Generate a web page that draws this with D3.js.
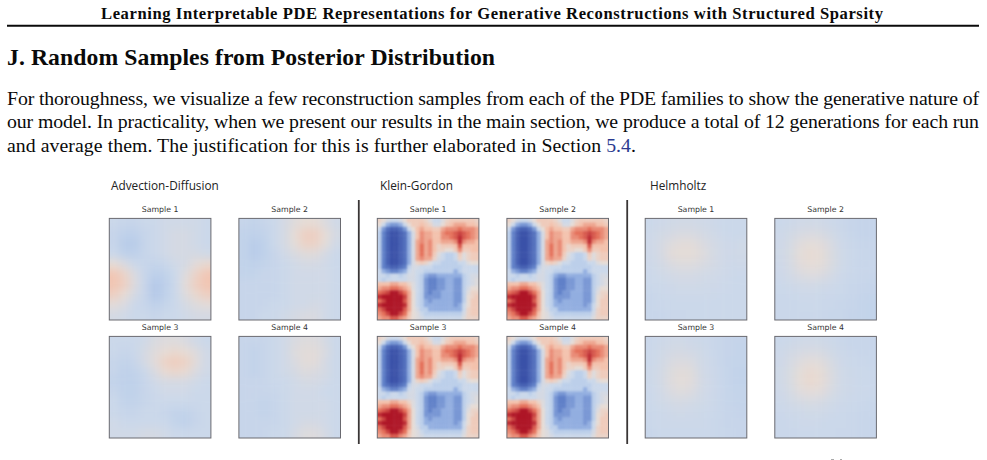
<!DOCTYPE html>
<html>
<head>
<meta charset="utf-8">
<script src="https://cdn.jsdelivr.net/npm/d3@7"></script>
<style>
  html, body { margin: 0; padding: 0; background: #fff; }
  svg { display: block; }
  .serif { font-family: "Liberation Serif", serif; fill: #0a0a0a; }
  .family { font-family: "Open Sans", sans-serif; font-size: 11.8px; fill: #222; }
  .sample { font-family: "DejaVu Sans", sans-serif; font-size: 7.8px; fill: #333; text-anchor: middle; }
</style>
</head>
<body>
<svg id="page" width="987" height="460"></svg>
<script>
// Page text
const runningHead = "Learning Interpretable PDE Representations for Generative Reconstructions with Structured Sparsity";
const sectionTitle = "J. Random Samples from Posterior Distribution";
const bodyLines = [
  "For thoroughness, we visualize a few reconstruction samples from each of the PDE families to show the generative nature of",
  "our model. In practicality, when we present our results in the main section, we produce a total of 12 generations for each run"
];
const lastLineLead = "and average them. The justification for this is further elaborated in Section ";
const lastLineLink = "5.4";
const familyNames = ["Advection-Diffusion", "Klein-Gordon", "Helmholtz"];
const sampleNames = ["Sample 1", "Sample 2", "Sample 3", "Sample 4"];

// Field values per sample, rows from top to bottom, on a -10..10 scale
const advection1 = [
  [-3,-3.3,-3.3,-3,-3,-2.5,-2.5,-2.5,-2.5,-3],
  [-3.3,-3.8,-3.8,-3.3,-3,-2.5,-2,-2,-2.5,-3],
  [-3.3,-4.1,-4.1,-3.3,-3,-2.5,-2,-2,-2.5,-3],
  [-3,-3.8,-3.8,-3.3,-3,-2.5,-2,-2,-2,-2.5],
  [0,-1.5,-3,-3.3,-3.5,-3.2,-2.5,-2,-0.5,0.5],
  [2.5,1,-1.5,-3.3,-4,-3.8,-3,-1,1,2.5],
  [2.6,1.5,-1.2,-3.3,-4.2,-4,-3,-0.5,1.5,2.6],
  [1.5,0,-2,-3.3,-4.2,-3.8,-3,-1,0.5,1.5],
  [-0.5,-1.5,-3,-3.3,-3.8,-3.5,-3,-2,-1,-0.5],
  [-2,-2.5,-3,-3,-3.3,-3,-3,-2.5,-2,-2]
];
const advection2 = [
  [-3.3,-3.6,-3.3,-3,-2,-0.8,0,0,-1.2,-2.5],
  [-3.6,-3.8,-3.6,-3,-2,0,1.5,1.5,0,-2],
  [-3.6,-4.1,-3.8,-3,-2,-0.3,1.2,1.2,-0.3,-2.5],
  [-3.6,-4.1,-3.8,-3.3,-2.5,-1.5,-0.8,-0.8,-2,-3],
  [-3.6,-3.8,-3.6,-3.3,-3,-2.5,-2,-2,-2.5,-3],
  [-3.6,-3.6,-3.3,-3.3,-3,-2.5,-2.5,-2.5,-2.5,-3],
  [-3.3,-3.3,-3.3,-3.3,-3,-2.5,-2.5,-2.5,-2.5,-3],
  [-3.3,-3.3,-3.3,-3.3,-3,-2.5,-2.5,-2.5,-2.5,-3],
  [-3.3,-3.3,-3.3,-3,-3,-2.5,-2.5,-2,-2.5,-3],
  [-3.3,-3.3,-3,-3,-2.5,-2,-1.5,-1.5,-2.5,-3]
];
const advection3 = [
  [-3,-3,-3,-2.5,-1.5,-1,-1,-1.5,-2.5,-3],
  [-3,-3.3,-3,-2,-0.8,0,0.5,0,-1,-2.5],
  [-3.3,-3.6,-3.3,-2,-0.5,1.3,1.8,1.3,-0.5,-2.5],
  [-3.3,-3.8,-3.6,-3,-1.5,0.2,0.7,0.2,-1.5,-2.5],
  [-3.6,-3.8,-3.8,-3.3,-2.5,-2,-2,-2,-2.5,-3],
  [-3.3,-3.8,-3.8,-3.3,-3,-2.5,-2.5,-2.5,-3,-3],
  [-3,-3.6,-3.6,-3.3,-3,-3,-3,-3,-3,-3],
  [-3,-3.3,-3.3,-3,-3,-3.3,-3.6,-3.6,-3.3,-3],
  [-2.5,-3,-3,-3,-3,-3,-3.6,-3.8,-3.3,-3],
  [-2.5,-2.5,-2.5,-2,-2,-2.5,-3,-3,-3,-3]
];
const advection4 = [
  [-3.3,-3.3,-3.3,-3,-2.5,-1.5,-1,-1,-2,-3],
  [-3.3,-3.6,-3.3,-3,-2.5,-1,-0.5,-0.5,-1.5,-3],
  [-3.3,-3.6,-3.3,-3,-2.5,-1.5,-0.5,-0.5,-2,-3],
  [-3.3,-3.6,-3.3,-3,-2.5,-2,-1,-1.5,-2,-3],
  [-3.3,-3.3,-3.3,-3,-3,-2.5,-2,-2,-2.5,-3],
  [-3.3,-3.3,-3.3,-3.3,-3,-2.5,-2.5,-2.5,-3,-3],
  [-3.3,-3.3,-3.6,-3.3,-3,-2.5,-2.5,-2.5,-2.5,-3],
  [-3.3,-3.3,-3.6,-3.3,-3,-2.5,-2.5,-2.5,-2.5,-3],
  [-3.3,-3.3,-3.3,-3.3,-3,-2.5,-2,-2,-2.5,-3],
  [-3.3,-3.3,-3.3,-3,-3,-2,-1,-1,-2,-3]
];

// The four Klein-Gordon samples are visually the same field
const kleinGordon = [
  [1,0,-2,-3,-3,-2,0,2,2,2,2,1,-1,-3,-3,-1,1,2,2,2,2,2,2,1],
  [0,-3,-5,-6,-6,-5,-3,0,2,2,3,2,1,-2,-2,0,2,3,4,4,4,3,3,2],
  [-3,-6,-8,-9,-9,-8,-6,-3,0,3,4,3,3,2,2,4,5,5,5,6,5,5,5,4],
  [-4,-7,-9,-10,-10,-9,-8,-5,-2,3,5,4,4,3,3,5,6,6,7,8,7,6,5,4],
  [-4,-7,-9,-10,-10,-9,-8,-5,-2,3,5,4,4,3,3,5,5,6,7,9,7,6,5,4],
  [-4,-7,-9,-10,-10,-9,-8,-5,-2,4,5,4,5,3,3,4,4,4,5,9,5,4,4,3],
  [-4,-7,-9,-10,-10,-9,-8,-5,-2,4,6,4,5,3,1,2,2,2,3,7,3,3,3,3],
  [-4,-7,-9,-10,-10,-9,-8,-5,-2,4,6,4,5,3,1,1,0,0,2,5,2,2,3,3],
  [-4,-7,-9,-10,-10,-9,-8,-5,-2,4,6,4,5,2,-1,-3,-4,-4,-3,2,-1,1,2,2],
  [-4,-7,-9,-10,-10,-9,-8,-5,-2,4,5,4,4,1,-2,-3,-4,-4,-3,1,-1,1,2,2],
  [-4,-7,-9,-10,-10,-9,-8,-5,-2,1,2,1,-1,-3,-3,-4,-4,-4,-4,-3,-3,-1,0,0],
  [-4,-7,-8,-9,-9,-8,-7,-4,-2,-2,-3,-3,-3,-4,-4,-4,-4,-4,-4,-4,-3,-3,-3,-3],
  [-3,-5,-6,-7,-7,-6,-5,-3,-2,-3,-3,-4,-4,-4,-4,-4,-4,-4,-5,-4,-3,-3,-3,-3],
  [-3,-3,-4,-3,-3,-4,-3,-2,-2,-3,-4,-5,-6,-6,-5,-5,-5,-5,-5,-5,-4,-3,-2,-2],
  [-3,-4,-3,-3,-3,-3,-3,-2,-2,-3,-4,-6,-7,-7,-6,-6,-5,-5,-6,-6,-4,-3,-2,-1],
  [3,3,3,4,4,3,3,1,-1,-3,-4,-6,-7,-7,-6,-6,-5,-5,-6,-6,-4,-3,-2,-1],
  [4,5,5,6,6,5,4,3,-1,-3,-4,-6,-7,-7,-6,-6,-5,-5,-6,-6,-4,-2,0,0],
  [6,7,8,10,10,8,6,4,0,-3,-4,-6,-7,-6,-6,-5,-5,-5,-6,-6,-4,-1,1,1],
  [9,10,10,10,10,10,8,4,0,-3,-4,-6,-6,-6,-6,-5,-5,-5,-6,-6,-4,0,1,2],
  [6,8,10,10,10,10,7,4,0,-3,-4,-5,-6,-5,-5,-5,-5,-5,-6,-6,-4,0,2,2],
  [9,10,10,10,10,10,9,4,0,-3,-4,-5,-5,-5,-5,-5,-5,-5,-6,-5,-3,0,2,2],
  [6,8,10,10,10,10,7,4,0,-2,-4,-4,-5,-5,-5,-5,-5,-5,-5,-5,-3,1,2,2],
  [5,6,8,10,10,8,6,3,0,-1,-3,-4,-4,-4,-4,-4,-4,-4,-4,-4,-2,1,2,2],
  [4,5,5,7,7,5,4,2,0,-1,-2,-3,-3,-3,-3,-3,-3,-3,-3,-3,-1,1,1,1]
];

const helmholtz1 = [
  [-3,-2.7,-2.5,-2.3,-2.3,-2.5,-2.7,-3,-3,-3],
  [-2.8,-2.3,-2,-1.6,-1.6,-2,-2.4,-2.8,-3,-3],
  [-2.7,-2,-1,-0.5,-0.5,-1.2,-2,-2.6,-2.8,-2.6],
  [-2.7,-2,-0.5,-0.2,-0.2,-0.8,-1.8,-2.5,-2.7,-2.5],
  [-2.8,-2.2,-1.5,-1,-1,-1.5,-2,-2.5,-2.8,-2.7],
  [-3,-2.6,-2.2,-2,-2,-2.2,-2.4,-2.7,-2.9,-3],
  [-3,-2.9,-2.7,-2.5,-2.5,-2.6,-2.7,-2.8,-3,-3],
  [-3.2,-3,-2.9,-2.8,-2.8,-2.8,-2.9,-3,-3,-3],
  [-3.2,-3.1,-3,-3,-3,-3,-3,-3,-3,-3],
  [-3.2,-3.2,-3.1,-3.1,-3,-3,-3,-3,-3,-3]
];
const helmholtz2 = [
  [-3,-2.8,-2.5,-2.4,-2.5,-2.8,-3.1,-3.3,-3.4,-3.4],
  [-2.8,-2.3,-1.8,-1.5,-1.7,-2.3,-2.9,-3.2,-3.4,-3.4],
  [-2.7,-2,-0.8,-0.3,-0.6,-1.6,-2.7,-3.1,-3.3,-3.3],
  [-2.6,-1.8,-0.3,0.2,-0.1,-1.3,-2.6,-3,-3.2,-3.3],
  [-2.7,-1.9,-0.6,-0.1,-0.3,-1.4,-2.6,-3,-3.2,-3.2],
  [-2.8,-2.2,-1.4,-1,-1.2,-2,-2.8,-3.1,-3.2,-3.3],
  [-3,-2.7,-2.4,-2.2,-2.4,-2.7,-3,-3.2,-3.3,-3.4],
  [-3.1,-3,-2.9,-2.8,-2.9,-3,-3.1,-3.2,-3.4,-3.5],
  [-3.1,-3.1,-3,-3,-3,-3.1,-3.2,-3.3,-3.5,-3.6],
  [-3.1,-3.1,-3.1,-3.1,-3.1,-3.2,-3.2,-3.4,-3.5,-3.6]
];
const helmholtz3 = [
  [-3.1,-2.8,-2.5,-2.5,-2.7,-2.9,-3.1,-3.3,-3.4,-3.4],
  [-3,-2.6,-2.1,-2,-2.2,-2.6,-3,-3.3,-3.4,-3.5],
  [-3,-2.4,-1.6,-1.2,-1.5,-2.4,-2.9,-3.3,-3.5,-3.5],
  [-2.9,-2.2,-1.1,-0.4,-0.8,-2.2,-2.8,-3.2,-3.5,-3.6],
  [-2.9,-2.2,-1,-0.3,-0.7,-2.1,-2.7,-3.2,-3.5,-3.6],
  [-3,-2.4,-1.5,-1,-1.3,-2.3,-2.8,-3.2,-3.5,-3.5],
  [-3,-2.6,-2.2,-2,-2.2,-2.6,-2.9,-3.2,-3.4,-3.5],
  [-3.1,-2.9,-2.7,-2.6,-2.7,-2.9,-3,-3.2,-3.3,-3.4],
  [-3.1,-2.9,-2.9,-2.9,-2.9,-2.9,-3.1,-3.2,-3.3,-3.3],
  [-3.2,-3,-3,-3,-3,-3,-3.1,-3.2,-3.2,-3.3]
];
const helmholtz4 = [
  [-3,-2.8,-2.6,-2.5,-2.6,-2.8,-3.1,-3.2,-3.2,-3.3],
  [-2.8,-2.3,-1.9,-1.7,-1.8,-2.4,-2.9,-3.1,-3.2,-3.2],
  [-2.7,-1.9,-1,-0.5,-0.8,-1.8,-2.7,-3,-3.1,-3.2],
  [-2.6,-1.7,-0.3,0.4,0,-1.4,-2.5,-2.9,-3,-3.1],
  [-2.6,-1.7,-0.2,0.5,0.1,-1.3,-2.5,-2.8,-3,-3.1],
  [-2.7,-2,-0.9,-0.4,-0.7,-1.8,-2.6,-2.9,-3,-3.1],
  [-2.9,-2.4,-2,-1.8,-2,-2.5,-2.8,-3,-3.1,-3.2],
  [-3,-2.8,-2.7,-2.6,-2.6,-2.8,-3,-3.1,-3.2,-3.2],
  [-3.1,-3,-2.9,-2.8,-2.9,-3,-3,-3.1,-3.2,-3.3],
  [-3.1,-3.1,-3.1,-3,-3,-3,-3.1,-3.1,-3.2,-3.3]
];

const familyFields = [
  [advection1, advection2, advection3, advection4],
  [kleinGordon, kleinGordon, kleinGordon, kleinGordon],
  [helmholtz1, helmholtz2, helmholtz3, helmholtz4]
];

// Diverging cool-to-warm colour ramp
const colour = d3.scaleLinear()
  .domain([-10, -7, -5, -4, -3, 0, 3, 6, 10])
  .range(["#3a51a8", "#6080c8", "#92aee0", "#bccfea", "#cbd8ea", "#e6dcd6", "#f3c2ad", "#e4705a", "#ae1526"])
  .interpolate(d3.interpolateRgb)
  .clamp(true);

const panelSize = 101.6;
const familyLeft = [109.3, 377.3, 645.2];
const familyLabelX = [111, 380, 650];
const columnOffset = d3.scaleOrdinal().domain([0, 1]).range([0, 129.6]);
const rowTop = d3.scaleOrdinal().domain([0, 1]).range([218.4, 336.4]);
const dividers = [358.8, 627.2];
const clippedMarks = [[831, 3], [840, 2]];

const svg = d3.select("#page");
const defs = svg.append("defs");

// Soft resampling of the coarse field cells
[["smooth-wide", 4.5], ["smooth-tight", 1.1]].forEach(([id, sd]) => {
  defs.append("filter")
    .attr("id", id)
    .attr("color-interpolation-filters", "sRGB")
    .attr("x", "-10%").attr("y", "-10%").attr("width", "120%").attr("height", "120%")
    .append("feGaussianBlur").attr("stdDeviation", sd);
});

// Running head and rule
svg.append("text").attr("class", "serif")
  .attr("x", 101).attr("y", 18.6)
  .attr("font-size", 16.6).attr("font-weight", 700)
  .attr("textLength", 782).attr("lengthAdjust", "spacing")
  .text(runningHead);
svg.append("line")
  .attr("x1", 7).attr("x2", 979).attr("y1", 25.7).attr("y2", 25.7)
  .attr("stroke", "#0a0a0a").attr("stroke-width", 2);

// Section heading
svg.append("text").attr("class", "serif")
  .attr("x", 7).attr("y", 65)
  .attr("font-size", 23.7).attr("font-weight", 700)
  .attr("textLength", 488).attr("lengthAdjust", "spacing")
  .text(sectionTitle);

// Body paragraph
const lineY = d3.scaleLinear().domain([0, 2]).range([104.5, 152]);
svg.selectAll("text.body").data(bodyLines).join("text")
  .attr("class", "serif body")
  .attr("x", 7).attr("y", (d, i) => lineY(i))
  .attr("font-size", 19.8)
  .attr("textLength", 972).attr("lengthAdjust", "spacing")
  .text(d => d);
const lastLine = svg.append("text").attr("class", "serif body")
  .attr("x", 7).attr("y", lineY(2))
  .attr("font-size", 19.8)
  .attr("textLength", 629).attr("lengthAdjust", "spacing");
lastLine.append("tspan").text(lastLineLead);
lastLine.append("tspan").style("fill", "#2b3a8f").text(lastLineLink);
lastLine.append("tspan").text(".");

// Field panels
familyFields.forEach((fields, f) => {
  svg.append("text").attr("class", "family")
    .attr("x", familyLabelX[f]).attr("y", 190)
    .text(familyNames[f]);

  fields.forEach((field, s) => {
    const x0 = familyLeft[f] + columnOffset(s % 2);
    const y0 = rowTop(Math.floor(s / 2));
    const n = field.length;
    const band = d3.scaleBand().domain(d3.range(n)).range([0, panelSize]);
    const pad = 18;
    const clipId = `clip-${f}-${s}`;

    defs.append("clipPath").attr("id", clipId)
      .append("rect").attr("width", panelSize).attr("height", panelSize);

    svg.append("text").attr("class", "sample")
      .attr("x", x0 + panelSize / 2).attr("y", y0 - 6)
      .text(sampleNames[s]);

    const panel = svg.append("g").attr("transform", `translate(${x0},${y0})`);
    const cells = panel.append("g").attr("clip-path", `url(#${clipId})`)
      .append("g").attr("filter", n > 10 ? "url(#smooth-tight)" : "url(#smooth-wide)");

    // Edge cells run past the frame so the smoothing does not fade at the border
    cells.selectAll("rect")
      .data(field.flatMap((row, r) => row.map((v, c) => ({ r, c, v }))))
      .join("rect")
      .attr("x", d => band(d.c) - (d.c === 0 ? pad : 0))
      .attr("y", d => band(d.r) - (d.r === 0 ? pad : 0))
      .attr("width", d => band.bandwidth() + 0.4 + (d.c === 0 || d.c === n - 1 ? pad : 0))
      .attr("height", d => band.bandwidth() + 0.4 + (d.r === 0 || d.r === n - 1 ? pad : 0))
      .attr("fill", d => colour(d.v));

    panel.append("rect")
      .attr("width", panelSize).attr("height", panelSize)
      .attr("fill", "none").attr("stroke", "#6a6a70").attr("stroke-width", 1);
  });
});

// Vertical separators between the families
svg.selectAll("line.divider").data(dividers).join("line")
  .attr("class", "divider")
  .attr("x1", d => d).attr("x2", d => d)
  .attr("y1", 200).attr("y2", 444)
  .attr("stroke", "#3a3636").attr("stroke-width", 1.8);

// Tops of the next page line, cut off by the bottom edge
svg.selectAll("rect.clipped").data(clippedMarks).join("rect")
  .attr("class", "clipped")
  .attr("x", d => d[0]).attr("y", 459)
  .attr("width", d => d[1]).attr("height", 1)
  .attr("fill", "#aaa");
</script>
</body>
</html>
